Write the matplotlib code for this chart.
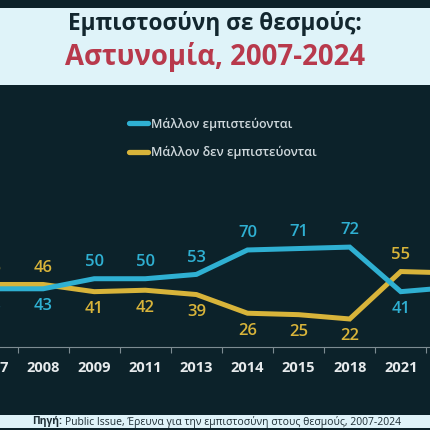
import numpy as np
import matplotlib; matplotlib.use("Agg")
import matplotlib.pyplot as plt
from matplotlib.patches import Rectangle
from matplotlib.lines import Line2D

plt.rcParams["font.family"] = ["Open Sans", "DejaVu Sans"]

# data
YEARS = ["2007", "2008", "2009", "2011", "2013", "2014", "2015", "2018", "2021", "2024"]
TRUST = [43, 43, 50, 50, 53, 70, 71, 72, 41, 44]
DISTRUST = [46, 46, 41, 42, 39, 26, 25, 22, 55, 54]
LABELS = ["Μάλλον εμπιστεύονται", "Μάλλον δεν εμπιστεύονται"]

BG = "#0c222a"
BLUE = "#2fb0d2"
GOLD = "#d8b43a"
RED = "#b8394c"
BOX = "#dff3f9"

W = H = 430
fig = plt.figure(figsize=(4.3, 4.3), dpi=100, facecolor=BG)

def fy(px):
    return 1 - px / H

# title box
fig.add_artist(Rectangle((0, fy(85)), 1, fy(8) - fy(85), transform=fig.transFigure,
                         facecolor=BOX, edgecolor="none"))
fig.text(0.5, fy(23), "Εμπιστοσύνη σε θεσμούς:", ha="center", va="center",
         fontsize=16.3, fontweight="bold", color="#13272f")
fig.text(0.5, fy(57), "Αστυνομία, 2007-2024", ha="center", va="center",
         fontsize=19.8, fontweight="bold", color=RED)

# source band
fig.add_artist(Rectangle((0, fy(428)), 1, fy(415) - fy(428), transform=fig.transFigure,
                         facecolor=BOX, edgecolor="none"))
fig.text(32 / W, fy(421.5), "Πηγή:", ha="left", va="center", fontsize=7.5,
         fontweight="bold", color="#1d2d34")
fig.text(65 / W, fy(421.5), "Public Issue, Έρευνα για την εμπιστοσύνη στους θεσμούς, 2007-2024",
         ha="left", va="center", fontsize=7.5, color="#1d2d34")

# axes: baseline at px 347, top at px 95
step = 51.1
x0 = -8
ax = fig.add_axes([0, fy(347), 1, fy(95) - fy(347)])
ax.set_facecolor("none")

x = np.arange(len(YEARS))
ax.plot(x, TRUST, color=BLUE, lw=3.6, solid_joinstyle="miter", solid_capstyle="butt", zorder=3)
ax.plot(x, DISTRUST, color=GOLD, lw=3.6, solid_joinstyle="miter", solid_capstyle="butt", zorder=2)

for i in x:
    t, d = TRUST[i], DISTRUST[i]
    ot = 12 if t > d else -12.5
    od = 12 if d > t else -12.5
    ax.annotate(str(t), (i, t), xytext=(0, ot), textcoords="offset points",
                ha="center", va="center", fontsize=12, fontweight="semibold",
                color=BLUE, annotation_clip=False)
    ax.annotate(str(d), (i, d), xytext=(0, od), textcoords="offset points",
                ha="center", va="center", fontsize=12, fontweight="semibold",
                color=GOLD, annotation_clip=False)
    # year labels (drawn as text so the cropped edge ones still show)
    ax.annotate(YEARS[i], (i, 0), xycoords=ax.get_xaxis_transform(), xytext=(0, -15),
                textcoords="offset points", ha="center", va="center", fontsize=10.5,
                fontweight="bold", color="#e6eaec", annotation_clip=False)

for s in ["top", "right", "left"]:
    ax.spines[s].set_visible(False)
ax.spines["bottom"].set_color("#7d8c92")
ax.spines["bottom"].set_linewidth(0.8)
ax.set_yticks([])
ax.set_xticks([])
ax.set_xticks(x[:-1] + 0.5, minor=True)
ax.tick_params(axis="x", which="minor", length=4, width=0.8, color="#7d8c92")

# limits after ticks so they are not widened
ax.set_xlim((0 - x0) / step, (W - x0) / step)
scale = 1.4375
ybot = (350.6 - 347) / scale
ax.set_ylim(ybot, ybot + (347 - 95) / scale)

# legend
h1 = Line2D([], [], color=BLUE, lw=3.8, solid_capstyle="round")
h2 = Line2D([], [], color=GOLD, lw=3.8, solid_capstyle="round")
leg = ax.legend([h1, h2], LABELS, loc="upper left",
                bbox_to_anchor=(129 / W, fy(117.5)), bbox_transform=fig.transFigure,
                frameon=False, handlelength=1.55, handletextpad=0.2, labelspacing=1.25,
                prop={"size": 9, "weight": "semibold"}, borderaxespad=0, borderpad=0)
for t in leg.get_texts():
    t.set_color("#cfd8dc")

fig.savefig("out.png", dpi=100, facecolor=BG)
